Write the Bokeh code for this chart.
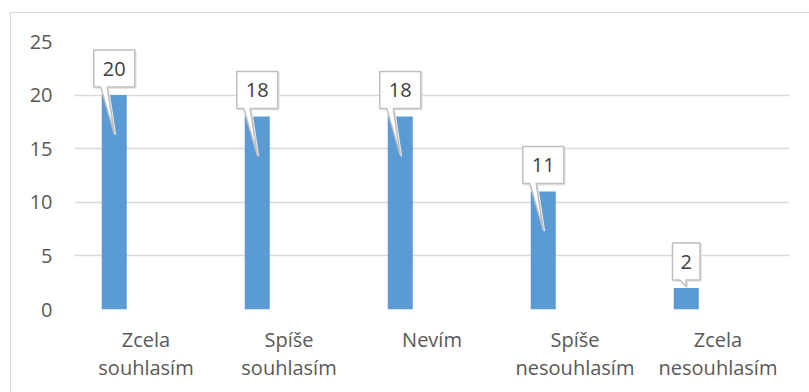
from bokeh.plotting import figure
from bokeh.models import FixedTicker, Range1d
from bokeh.core.properties import value
from bokeh.embed import file_html
from bokeh.resources import INLINE

# Survey answers and counts
categories = ["Zcela\nsouhlasím", "Spíše\nsouhlasím", "Nevím", "Spíše\nnesouhlasím", "Zcela\nnesouhlasím"]
counts = [20, 18, 18, 11, 2]
y_ticks = [0, 5, 10, 15, 20, 25]

# Chart area placement and frame geometry (pixels)
OFF_X, OFF_Y = 11, 13
W, H = 798, 379
LEFT, RIGHT, TOP, BOTTOM = 63, 20, 28, 83
FRAME_W = W - LEFT - RIGHT
FRAME_H = H - TOP - BOTTOM
Y_MAX = 25
n = len(categories)
px_x = FRAME_W / n          # pixels per category slot
px_y = FRAME_H / Y_MAX      # pixels per unit

# Bar sits left of the slot centre, like a clustered column with an empty partner
BAR_OFFSET = -0.222
BAR_WIDTH = 0.175

FONT = "Open Sans"
LABEL_COLOR = "#595959"
GRID_COLOR = "#d9d9d9"
BAR_COLOR = "#5b9bd5"

p = figure(
    width=W, height=H,
    x_range=Range1d(0, n), y_range=Range1d(0, Y_MAX),
    output_backend="svg", toolbar_location=None,
    min_border_left=LEFT, min_border_right=RIGHT,
    min_border_top=TOP, min_border_bottom=BOTTOM,
    margin=(OFF_Y, 0, 0, OFF_X),
    styles={"outline": f"1.5px solid {GRID_COLOR}"},
)
p.outline_line_color = None
p.background_fill_color = "white"
p.border_fill_color = "white"

# Axes
p.yaxis.ticker = FixedTicker(ticks=y_ticks)
p.xaxis.ticker = FixedTicker(ticks=[i + 0.5 for i in range(n)])
p.xaxis.major_label_overrides = {i + 0.5: c for i, c in enumerate(categories)}
for ax in (p.xaxis, p.yaxis):
    ax.axis_line_color = None
    ax.major_tick_line_color = None
    ax.minor_tick_line_color = None
    ax.major_tick_out = 0
    ax.major_tick_in = 0
    ax.major_label_text_font = FONT
    ax.major_label_text_font_size = "20px"
    ax.major_label_text_color = LABEL_COLOR
p.yaxis.major_label_standoff = 22
p.xaxis.major_label_standoff = 16
p.xaxis.major_label_text_line_height = 1.07

p.xgrid.grid_line_color = None
p.ygrid.ticker = FixedTicker(ticks=y_ticks)
p.ygrid.grid_line_color = GRID_COLOR
p.ygrid.grid_line_width = 1.3

# Bars
bar_x = [i + 0.5 + BAR_OFFSET for i in range(n)]
p.vbar(x=bar_x, top=counts, width=BAR_WIDTH, color=BAR_COLOR, line_color=None)

# Callout labels: a box above each bar with a pointer into the bar
BOX_H = 37
GAP = 8
xs, ys, tx, ty, tt = [], [], [], [], []
for cx, v in zip(bar_x, counts):
    label = str(v)
    box_w = 14 + 13.5 * len(label)
    bottom = v + GAP / px_y
    top = bottom + BOX_H / px_y
    left = cx - box_w / 2 / px_x
    right = cx + box_w / 2 / px_x
    drop = 38.5 if v * px_y > 60 else -1.5
    tip_y = v - drop / px_y
    xs.append([left, right, right, left + 13.5 / px_x, cx, left + 7 / px_x, left])
    ys.append([top, top, bottom, bottom, tip_y, bottom, bottom])
    tx.append(cx)
    ty.append((top + bottom) / 2)
    tt.append(label)

shadow_xs = [[x + 1.2 / px_x for x in row] for row in xs]
shadow_ys = [[y - 1.2 / px_y for y in row] for row in ys]
p.patches(shadow_xs, shadow_ys, fill_color="#e6e6e6", line_color="#e6e6e6", line_width=1.5)
p.patches(xs, ys, fill_color="white", line_color="#bfbfbf", line_width=1.5)
p.text(x=tx, y=ty, text=tt, text_font=value(FONT), text_font_size="20px",
       text_color="#404040", text_align="center", text_baseline="middle")

open("out.html", "w").write(file_html(p, INLINE))
